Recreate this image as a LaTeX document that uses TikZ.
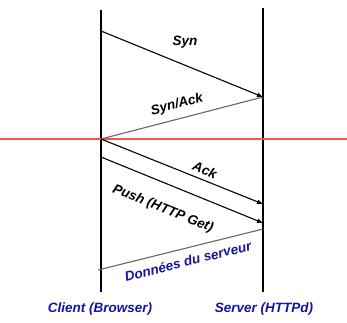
\documentclass[tikz,border=0pt]{standalone}
\usepackage{fontspec}
\setmainfont{Liberation Sans}
\usetikzlibrary{arrows.meta}
\definecolor{darkblue}{RGB}{20,20,160}
\definecolor{softred}{RGB}{250,80,80}

\begin{document}
\begin{tikzpicture}[
  x=1pt,y=-1pt,
  lbl/.style={font=\fontsize{13.5}{16}\selectfont\bfseries\itshape,inner sep=0pt},
  msg/.style={draw,line width=1.1pt,-{Latex[length=6pt,width=5pt]}},
  reply/.style={draw=gray!80!black,line width=1.1pt},
  life/.style={draw,line width=1.3pt}
]
\useasboundingbox (0,0) rectangle (347,322);

% lignes de vie
\coordinate (ctop) at (101,10);
\coordinate (cbot) at (101,292);
\coordinate (stop) at (263,8);
\coordinate (sbot) at (263,292);
\draw[life] (ctop) -- (cbot);
\draw[life] (stop) -- (sbot);

% ligne rouge
\coordinate (rl) at (0,139);
\coordinate (rr) at (347,139);
\draw[softred,line width=1.6pt] (rl) -- (rr);

% messages
\coordinate (syn0) at (101,31);
\coordinate (syn1) at (263,97);
\coordinate (ack0) at (101,139);
\coordinate (ack1) at (263,204);
\coordinate (push0) at (101,157);
\coordinate (push1) at (263,223);
\coordinate (data0) at (263,229);
\coordinate (data1) at (98,270);

\draw[msg] (syn0) -- (syn1);
\draw[reply] (syn1) -- (ack0);
\draw[msg] (ack0) -- (ack1);
\draw[msg] (push0) -- (push1);
\draw[reply] (data0) -- (data1);

\node[lbl] (syn) at (185,42) {Syn};
\node[lbl,rotate=14.5] (synack) at (177,105) {Syn/Ack};
\node[lbl,rotate=-22] (ack) at (205,170) {Ack};
\node[lbl,rotate=-22] (push) at (163,209) {Push (HTTP Get)};
\node[lbl,darkblue,rotate=14] (data) at (188,261) {Données du serveur};

\node[lbl,darkblue] (client) at (100,309) {Client (Browser)};
\node[lbl,darkblue] (server) at (264,309) {Server (HTTPd)};
\end{tikzpicture}
\end{document}
